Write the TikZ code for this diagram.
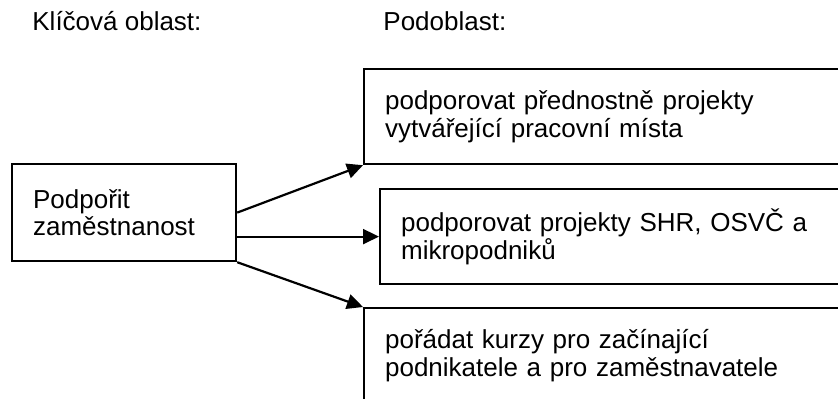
\documentclass[tikz,border=0pt]{standalone}
\usepackage{fontspec}
\setmainfont{Liberation Sans}
\usepackage{tikz}
\usetikzlibrary{arrows.meta}

\begin{document}
\begin{tikzpicture}[x=0.5pt, y=-0.5pt,
                    every node/.style={font=\fontsize{13pt}{13.8pt}\selectfont},
                    header/.style={anchor=base west, inner sep=0pt},
                    keybox/.style={draw=black, line width=1.1pt, anchor=north west,
                    align=left, text width=91pt, inner xsep=10.5pt,
                    minimum height=48.5pt},
                    subbox/.style={draw=black, line width=1.1pt, anchor=north west,
                    align=left, text width=247.5pt, inner xsep=10.5pt,
                    minimum height=47.5pt},
                    arr/.style={line width=1.1pt,
                    -{Triangle[length=8pt, width=7.5pt]}}]
                        \useasboundingbox (0,0) rectangle (838,398);
                        % column titles
                        \node[header] (keytitle) at (32,30) {Klíčová oblast:};
                        \node[header] (subtitle) at (383,30) {Podoblast:};
                        % boxes
                        \node[keybox] (key) at (11,163)
                        {Podpořit\\zaměstnanost};
                        \node[subbox] (sub1) at (363,68)
                        {podporovat přednostně projekty\\vytvářející pracovní místa};
                        \node[subbox] (sub2) at (379,188)
                        {podporovat projekty SHR, OSVČ a\\mikropodniků};
                        \node[subbox] (sub3) at (363,307)
                        {pořádat kurzy pro začínající\\podnikatele a pro zaměstnavatele};
                        % arrows
                        \draw[arr] (key.east) -- (sub1.south west);
                        \draw[arr] (key.east |- sub2.west) -- (sub2.west);
                        \draw[arr] (key.south east) -- (sub3.north west);
                        \end{tikzpicture}
\end{document}
